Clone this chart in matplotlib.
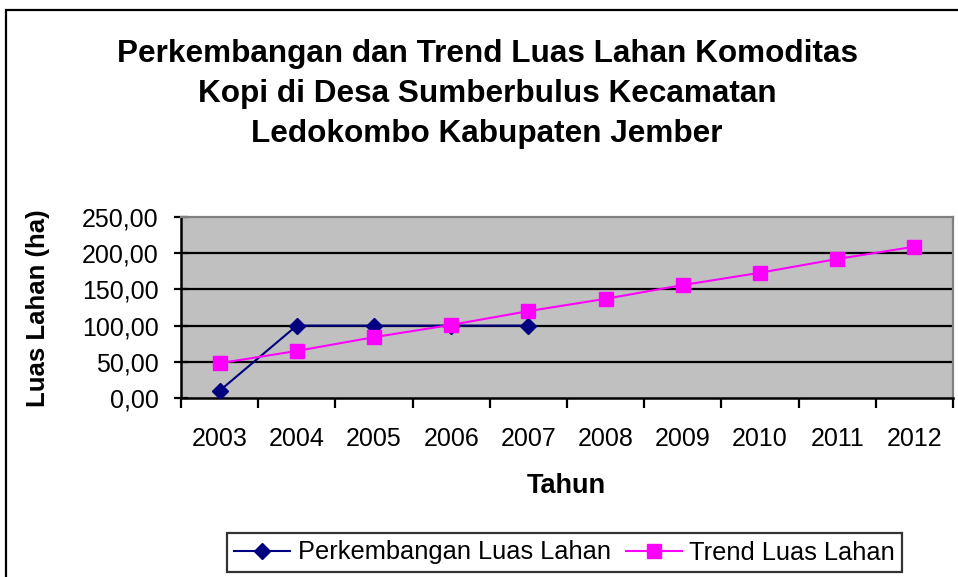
import matplotlib
matplotlib.use("Agg")
import matplotlib.pyplot as plt
from matplotlib.patches import Rectangle

years = ["2003", "2004", "2005", "2006", "2007", "2008", "2009", "2010", "2011", "2012"]
perkembangan = [10, 100, 100, 100, 100]
trend = [48, 65, 84, 101, 120, 137, 156, 173, 192, 209]
yticks = [0, 50, 100, 150, 200, 250]
ytick_labels = ["0,00", "50,00", "100,00", "150,00", "200,00", "250,00"]

plt.rcParams['font.family'] = ['Liberation Sans', 'DejaVu Sans']

W, H = 958, 577
fig = plt.figure(figsize=(W / 100, H / 100), dpi=100)

# outer chart frame
fig.patches.append(Rectangle((6 / W, -0.1), 1.2, 1 - 10 / H + 0.1, transform=fig.transFigure,
                             fill=False, edgecolor='black', linewidth=1.6))

L, R, T, B = 181, 953, 217, 398
ax = fig.add_axes([L / W, 1 - B / H, (R - L) / W, (B - T) / H])
ax.set_facecolor('#C0C0C0')

x = list(range(len(years)))
ax.plot(x[:len(perkembangan)], perkembangan, color='#000080', marker='D', markersize=8.5,
        linewidth=1.5, label='Perkembangan Luas Lahan', zorder=3)
ax.plot(x, trend, color='#FF00FF', marker='s', markersize=9.5,
        linewidth=1.5, label='Trend Luas Lahan', zorder=4)

ax.set_xlim(-0.5, len(years) - 0.5)
ax.set_ylim(0, 250)
ax.set_yticks(yticks)
ax.set_yticklabels(ytick_labels, fontsize=18)
for yv in yticks[1:-1]:
    ax.axhline(yv, color='black', linewidth=1.6, zorder=1)

ax.set_xticks(x)
ax.set_xticklabels(years, fontsize=18)
ax.set_xticks([i - 0.5 for i in range(len(years) + 1)], minor=True)
ax.tick_params(axis='x', which='major', length=0, pad=21)
ax.tick_params(axis='x', which='minor', length=7, width=1.6, direction='out')
ax.tick_params(axis='y', which='major', length=10, width=1.6, direction='inout', pad=11)

for side in ['left', 'bottom']:
    ax.spines[side].set_color('black')
    ax.spines[side].set_linewidth(1.8)
for side in ['top', 'right']:
    ax.spines[side].set_color('#808080')
    ax.spines[side].set_linewidth(1.6)

ax.set_xlabel('Tahun', fontsize=19.5, fontweight='bold')
ax.xaxis.set_label_coords((566 - L) / (R - L), -(486 - B) / (B - T))
ax.xaxis.label.set_va('center')
ax.set_ylabel('Luas Lahan (ha)', fontsize=18.5, fontweight='bold')
ax.yaxis.set_label_coords(-(L - 38) / (R - L), (B - 308) / (B - T))
ax.yaxis.label.set_va('center')

fig.text(487 / W, 1 - 94 / H,
         'Perkembangan dan Trend Luas Lahan Komoditas\nKopi di Desa Sumberbulus Kecamatan\nLedokombo Kabupaten Jember',
         ha='center', va='center', fontsize=22.7, fontweight='bold', linespacing=1.44)

leg = ax.legend(loc='center', bbox_to_anchor=((564.5 - L) / (R - L), -(552.5 - B) / (B - T)),
                ncol=2, fontsize=18.3, frameon=True, fancybox=False, edgecolor='black',
                handlelength=2.2, columnspacing=0.6, handletextpad=0.28, borderpad=0.3,
                borderaxespad=0)
leg.get_frame().set_linewidth(1.6)

fig.savefig('out.png', dpi=100)
